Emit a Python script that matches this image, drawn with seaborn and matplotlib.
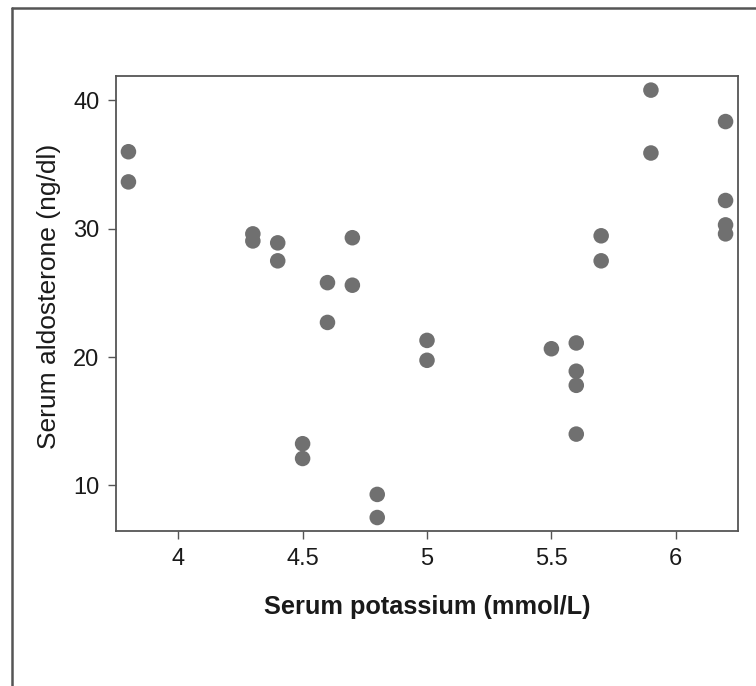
import matplotlib
matplotlib.use("Agg")
import matplotlib.pyplot as plt
from matplotlib.lines import Line2D
import seaborn as sns
import pandas as pd

potassium = [3.8, 3.8, 4.3, 4.3, 4.4, 4.4, 4.5, 4.5, 4.6, 4.6, 4.7, 4.7,
             4.8, 4.8, 5.0, 5.0, 5.5, 5.6, 5.6, 5.6, 5.6, 5.7, 5.7,
             5.9, 5.9, 6.2, 6.2, 6.2, 6.2]
aldosterone = [36.0, 33.65, 29.6, 29.05, 28.9, 27.5, 13.25, 12.1, 25.8, 22.7, 29.3, 25.6,
               9.3, 7.5, 21.3, 19.75, 20.65, 21.1, 18.9, 17.8, 14.0, 29.45, 27.5,
               40.8, 35.9, 38.35, 32.2, 30.3, 29.6]
x_ticks = [4, 4.5, 5, 5.5, 6]
x_tick_labels = ["4", "4.5", "5", "5.5", "6"]
y_ticks = [10, 20, 30, 40]
y_tick_labels = ["10", "20", "30", "40"]

df = pd.DataFrame({"potassium": potassium, "aldosterone": aldosterone})

sns.set_style("ticks")
plt.rcParams["font.family"] = ["Liberation Sans", "DejaVu Sans"]

fig = plt.figure(figsize=(7.56, 6.86), dpi=100)
ax = fig.add_axes([116/756, 1 - 531/686, (738-116)/756, (531-76)/686])

sns.scatterplot(data=df, x="potassium", y="aldosterone", ax=ax,
                color="#707070", s=125, edgecolor="none", linewidth=0)

ax.set_xlim(3.75, 6.25)
ax.set_ylim(6.45, 41.9)
ax.set_xticks(x_ticks)
ax.set_xticklabels(x_tick_labels)
ax.set_yticks(y_ticks)
ax.set_yticklabels(y_tick_labels)

for sp in ax.spines.values():
    sp.set_visible(True)
    sp.set_color("#555555")
    sp.set_linewidth(1.3)

ax.tick_params(axis="both", length=6, width=1, color="#555555",
               labelsize=17, labelcolor="#1a1a1a", pad=6)

ax.set_xlabel("Serum potassium (mmol/L)", fontsize=18.3, fontweight="bold",
              color="#1a1a1a", labelpad=18)
ax.set_ylabel("Serum aldosterone (ng/dl)", fontsize=19, color="#1a1a1a",
              labelpad=9)
ax.yaxis.set_label_coords(-0.089, 0.515)

# outer frame (top and left visible)
fig.add_artist(Line2D([12/756, 1.0], [1 - 7.5/686, 1 - 7.5/686],
                      transform=fig.transFigure, color="#555555", linewidth=1.8))
fig.add_artist(Line2D([12/756, 12/756], [0.0, 1 - 7.5/686],
                      transform=fig.transFigure, color="#555555", linewidth=1.8))

fig.savefig("out.png", dpi=100)
